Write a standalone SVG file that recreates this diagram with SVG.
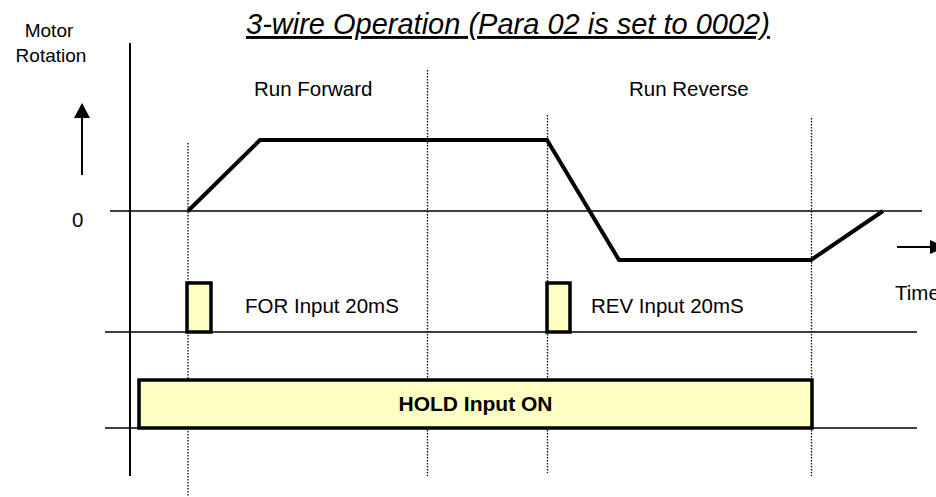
<svg xmlns="http://www.w3.org/2000/svg" width="936" height="497" viewBox="0 0 936 497">
<style>
text{font-family:"Liberation Sans",Arial,sans-serif;fill:#000}
.lbl{font-size:20.5px}
.axis{stroke:#000;stroke-width:2;fill:none}
.thin{stroke:#000;stroke-width:1.6;fill:none}
.dot{stroke:#000;stroke-width:1.3;stroke-dasharray:1.5 1.5;fill:none}
.curve{stroke:#000;stroke-width:4;fill:none;stroke-linejoin:miter}
.pulse{fill:#FFFFC4;stroke:#000;stroke-width:3.5}
</style>
<rect width="936" height="497" fill="#fff"/>
<g id="title">
<text x="246" y="34" font-size="29" font-style="italic" text-decoration="underline">3-wire Operation (Para 02 is set to 0002)</text>
</g>
<g id="axes">
<line class="axis" x1="130" y1="43" x2="130" y2="476"/>
<line class="thin" x1="110" y1="211" x2="922" y2="211"/>
<line class="thin" x1="105" y1="332" x2="917" y2="332"/>
<line class="thin" x1="105" y1="428" x2="917" y2="428"/>
</g>
<g id="guides">
<line class="dot" x1="188" y1="143" x2="188" y2="497"/>
<line class="dot" x1="427.5" y1="70" x2="427.5" y2="476"/>
<line class="dot" x1="547.5" y1="115" x2="547.5" y2="473"/>
<line class="dot" x1="811.5" y1="118" x2="811.5" y2="476"/>
</g>
<g id="labels">
<text x="49" y="37" font-size="19" text-anchor="middle">Motor</text>
<text x="51" y="62" font-size="19" text-anchor="middle">Rotation</text>
<text class="lbl" x="72" y="227">0</text>
<text class="lbl" x="254" y="96">Run Forward</text>
<text class="lbl" x="629" y="96">Run Reverse</text>
<text class="lbl" x="895" y="300">Time</text>
</g>
<g id="arrows">
<line class="axis" x1="82" y1="175" x2="82" y2="116"/>
<polygon points="74,118 90,118 82,103" fill="#000"/>
<line class="axis" x1="897" y1="247" x2="932" y2="247"/>
<polygon points="930,240 930,254 946,247" fill="#000"/>
</g>
<g id="motor-curve">
<polyline class="curve" points="188,211 260,140 547,140 619,260 811,260 883,211"/>
</g>
<g id="for-pulse">
<rect class="pulse" x="187" y="283" width="24" height="49"/>
<text class="lbl" x="245" y="313">FOR Input 20mS</text>
</g>
<g id="rev-pulse">
<rect class="pulse" x="547" y="283" width="23" height="49"/>
<text class="lbl" x="591" y="313">REV Input 20mS</text>
</g>
<g id="hold">
<rect class="pulse" x="139" y="380" width="673" height="48"/>
<text x="475.5" y="411" font-size="21" font-weight="bold" text-anchor="middle">HOLD Input ON</text>
</g>
</svg>
